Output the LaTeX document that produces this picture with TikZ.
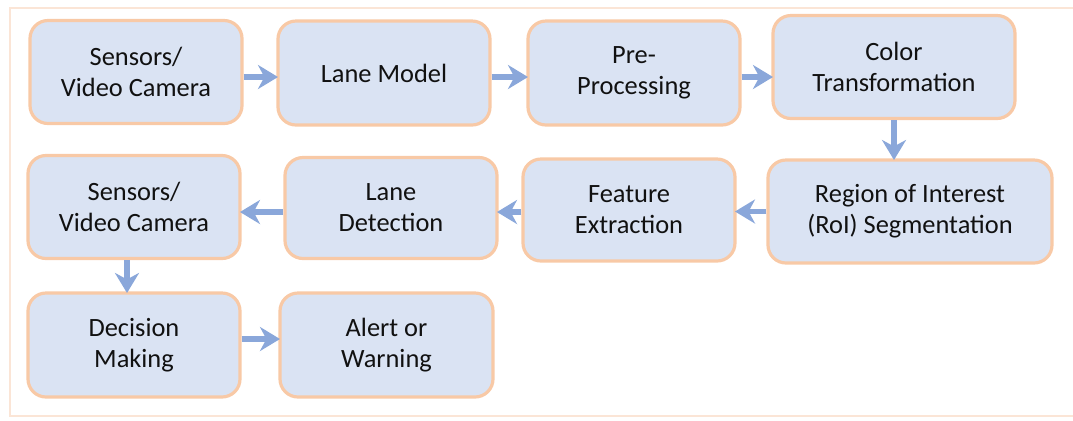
\documentclass[tikz,border=0pt]{standalone}
\usepackage{fontspec}
\setmainfont{Carlito}
\usetikzlibrary{arrows.meta}
\definecolor{boxfill}{HTML}{DAE3F3}
\definecolor{boxline}{HTML}{F8C9A6}
\definecolor{arrowblue}{HTML}{8AA7DA}
\definecolor{framecol}{HTML}{FBE5D6}
\definecolor{txt}{HTML}{111111}
\tikzset{
  stepbox/.style={draw=boxline, fill=boxfill, line width=1.6pt, rounded corners=9pt,
    align=center, inner sep=0pt, outer sep=0pt, text=txt,
    font=\fontsize{13.2}{15.5}\selectfont},
  flow/.style={draw=arrowblue, line width=2.6pt,
    -{Stealth[length=10pt,width=12pt,inset=3.2pt]}, shorten <=0.8pt}
}
\begin{document}
\begin{tikzpicture}[x=0.5pt, y=-0.5pt]
  \useasboundingbox (0,0) rectangle (1073,420);
  % outer frame, open on the right
  \draw[framecol, line width=1.2pt] (1073,8) -- (10,8) -- (10,416) -- (1073,416);

  % first row
  \node[stepbox, minimum width=106pt, minimum height=51.5pt] (s1) at (136,72) {Sensors/\\Video Camera};
  \node[stepbox, minimum width=106pt, minimum height=52pt] (lm) at (384,73) {Lane Model};
  \node[stepbox, minimum width=106pt, minimum height=52pt] (pp) at (634,73) {Pre-\\Processing};
  \node[stepbox, minimum width=121pt, minimum height=51.5pt] (ct) at (894,67) {Color\\Transformation};

  % second row
  \node[stepbox, minimum width=142pt, minimum height=51.5pt] (roi) at (910,211.5) {Region of Interest\\(RoI) Segmentation};
  \node[stepbox, minimum width=106pt, minimum height=51pt] (fe) at (629,210) {Feature\\Extraction};
  \node[stepbox, minimum width=106pt, minimum height=50.5pt] (ld) at (391,208) {Lane\\Detection};
  \node[stepbox, minimum width=106pt, minimum height=51.5pt] (s2) at (134,207) {Sensors/\\Video Camera};

  % third row
  \node[stepbox, minimum width=106pt, minimum height=52pt] (dm) at (134,345) {Decision\\Making};
  \node[stepbox, minimum width=106.5pt, minimum height=52pt] (aw) at (386.5,345) {Alert or\\Warning};

  % connectors
  \draw[flow] ([yshift=-2.5pt]s1.east) -- ([yshift=-2.5pt]s1.east -| lm.west);
  \draw[flow] ([yshift=-2pt]lm.east) -- ([yshift=-2pt]lm.east -| pp.west);
  \draw[flow] ([yshift=-2pt]pp.east) -- ([yshift=-2pt]pp.east -| ct.west);
  \draw[flow] (ct.south) -- (ct.south |- roi.north);
  \draw[flow] (roi.west) -- (roi.west -| fe.east);
  \draw[flow] ([yshift=-1pt]fe.west) -- ([yshift=-1pt]fe.west -| ld.east);
  \draw[flow] ([yshift=-2pt]ld.west) -- ([yshift=-2pt]ld.west -| s2.east);
  \draw[flow] ([xshift=-3.5pt]s2.south) -- ([xshift=-3.5pt]s2.south |- dm.north);
  \draw[flow] ([yshift=3pt]dm.east) -- ([yshift=3pt]dm.east -| aw.west);
\end{tikzpicture}
\end{document}
